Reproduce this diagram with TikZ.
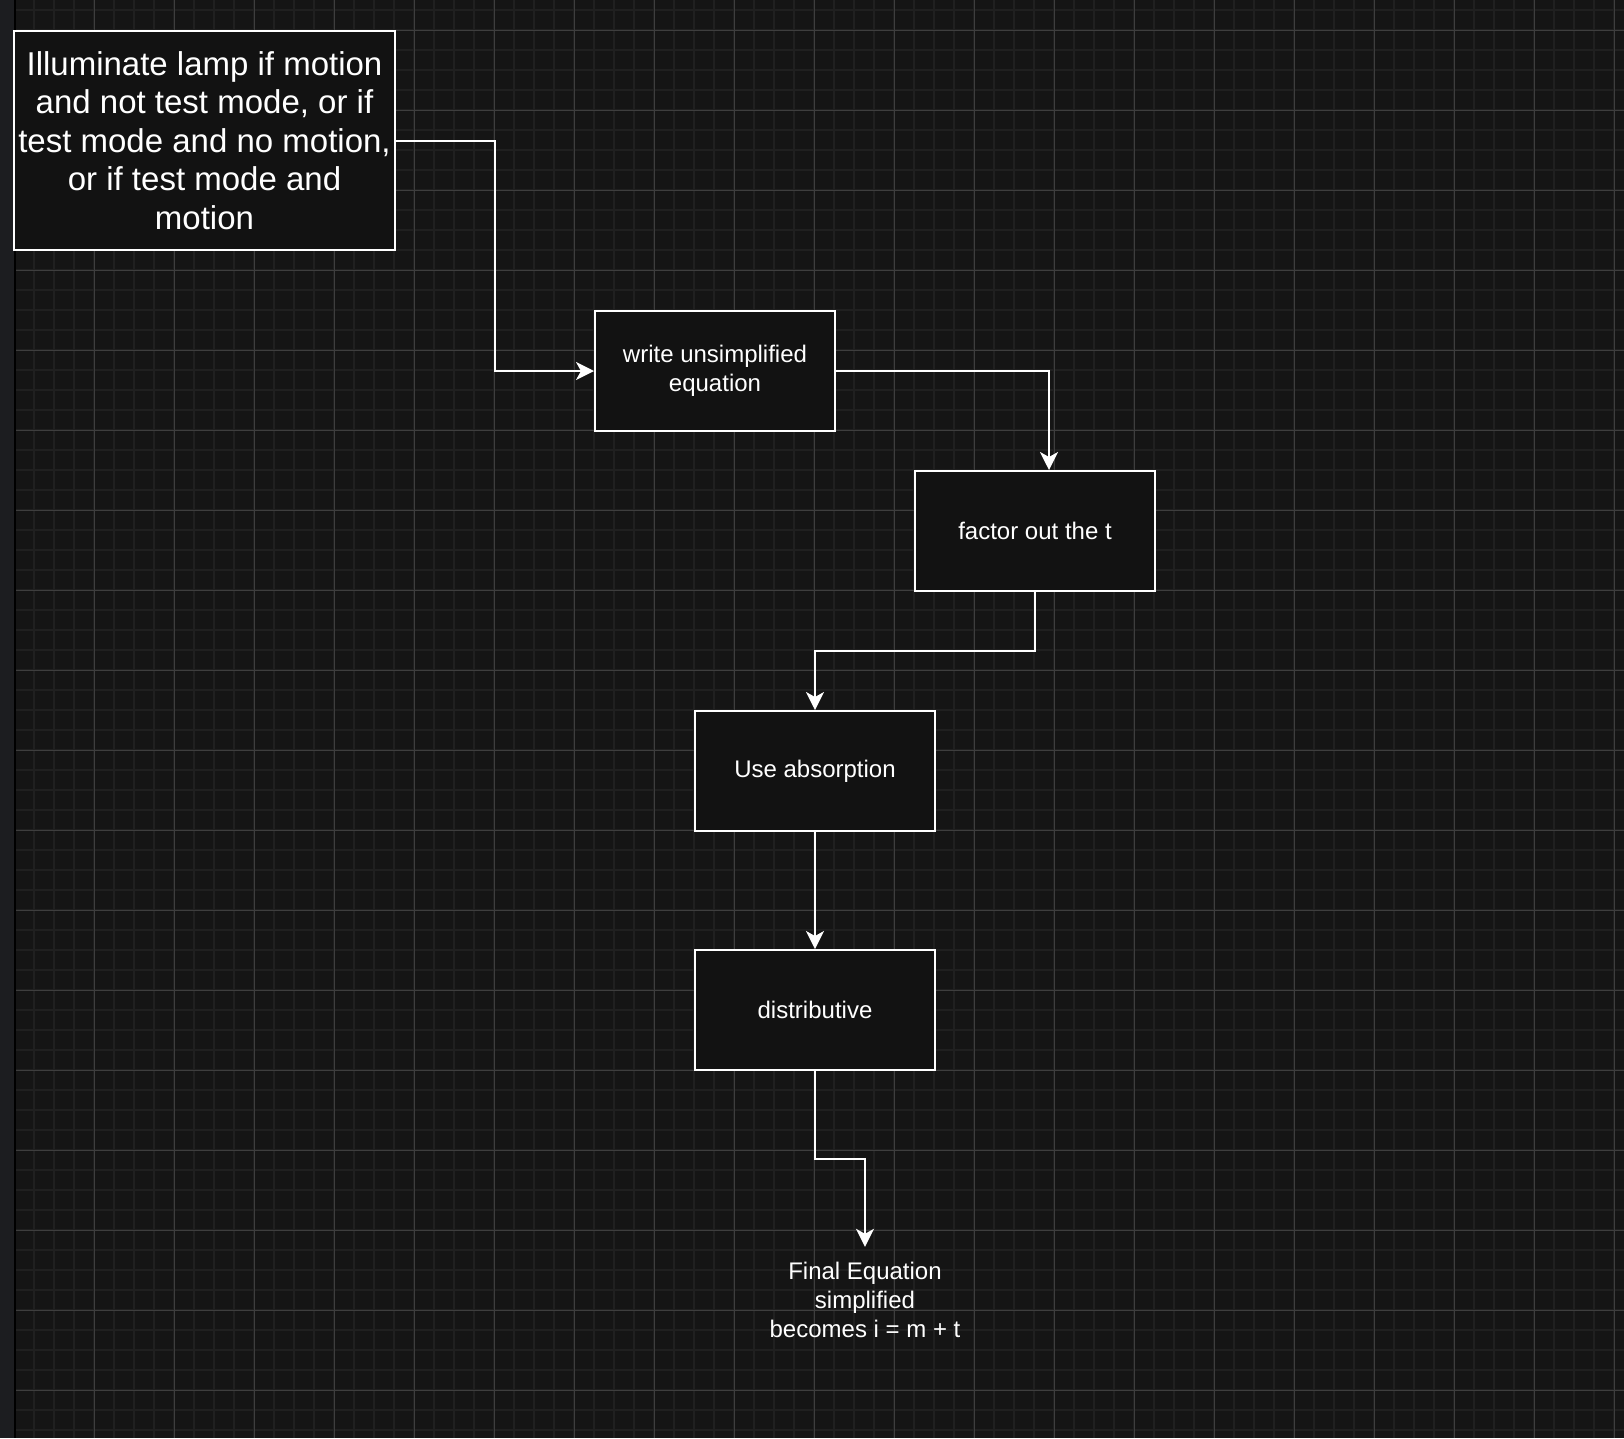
\documentclass[tikz,border=0pt]{standalone}
\usepackage{fontspec}
\setmainfont{Liberation Sans}
\usetikzlibrary{arrows.meta,calc}
\definecolor{bgc}{HTML}{151515}
\definecolor{stripc}{HTML}{1C1D20}
\definecolor{minorc}{HTML}{202020}
\definecolor{majorc}{HTML}{3E3E3E}
\definecolor{boxfill}{HTML}{121212}
\begin{document}
\begin{tikzpicture}[x=1pt,y=-1pt,
  box/.style={draw=white, line width=2pt, fill=boxfill, text=white,
    minimum width=240pt, minimum height=120pt, align=center, inner sep=0pt,
    font=\fontsize{24}{29}\selectfont},
  bigbox/.style={box, minimum width=381pt, minimum height=219pt,
    font=\fontsize{33}{38.5}\selectfont},
  plaintext/.style={text=white, align=center, inner sep=0pt, minimum height=106pt,
    font=\fontsize{24}{29}\selectfont},
  conn/.style={draw=white, line width=2pt,
    -{Stealth[length=18pt,width=18pt,inset=5pt]}},
  minorline/.style={draw=minorc, line width=2pt},
  majorline/.style={draw=majorc, line width=1.2pt}]
\useasboundingbox (0,0) rectangle (1624,1438);
\fill[bgc] (0,0) rectangle (1624,1438);
% grid
\foreach \i in {1,...,80} { \draw[minorline] ({14.3+20*\i},0) -- ({14.3+20*\i},1438); }
\foreach \i in {0,...,71} { \draw[minorline] (16,{10.3+20*\i}) -- (1624,{10.3+20*\i}); }
\foreach \i in {1,...,20} { \draw[majorline] ({14.3+80*\i},0) -- ({14.3+80*\i},1438); }
\foreach \i in {0,...,17} { \draw[majorline] (16,{30.3+80*\i}) -- (1624,{30.3+80*\i}); }
% left strip
\fill[stripc] (0,0) rectangle (14,1438);
\fill[black] (14,0) rectangle (16,1438);
% nodes
\node[bigbox] (n1) at (204.5,140.5) {\raisebox{-1pt}{\parbox{381pt}{\centering Illuminate lamp if motion\\and not test mode, or if\\test mode and no motion,\\or if test mode and\\motion}}};
\node[box] (n2) at (715,371) {write unsimplified\\equation};
\node[box] (n3) at (1035,531) {factor out the t};
\node[box] (n4) at (815,771) {Use absorption};
\node[box] (n5) at (815,1010) {distributive};
\node[plaintext] (n6) at (865,1300) {Final Equation\\simplified\\becomes i = m + t};
% connectors
\draw[conn] (n1.east) -- ([xshift=99pt]n1.east) |- (n2.west);
\draw[conn] (n2.east) -| ([xshift=14pt]n3.north);
\coordinate (m3) at ($(n3.south)!0.5!(n4.north)$);
\draw[conn] (n3.south) |- (m3) -| (n4.north);
\draw[conn] (n4.south) -- (n5.north);
\coordinate (m5) at ($(n5.south)!0.5!(n6.north)$);
\draw[conn] (n5.south) |- (m5) -| (n6.north);
\end{tikzpicture}
\end{document}
